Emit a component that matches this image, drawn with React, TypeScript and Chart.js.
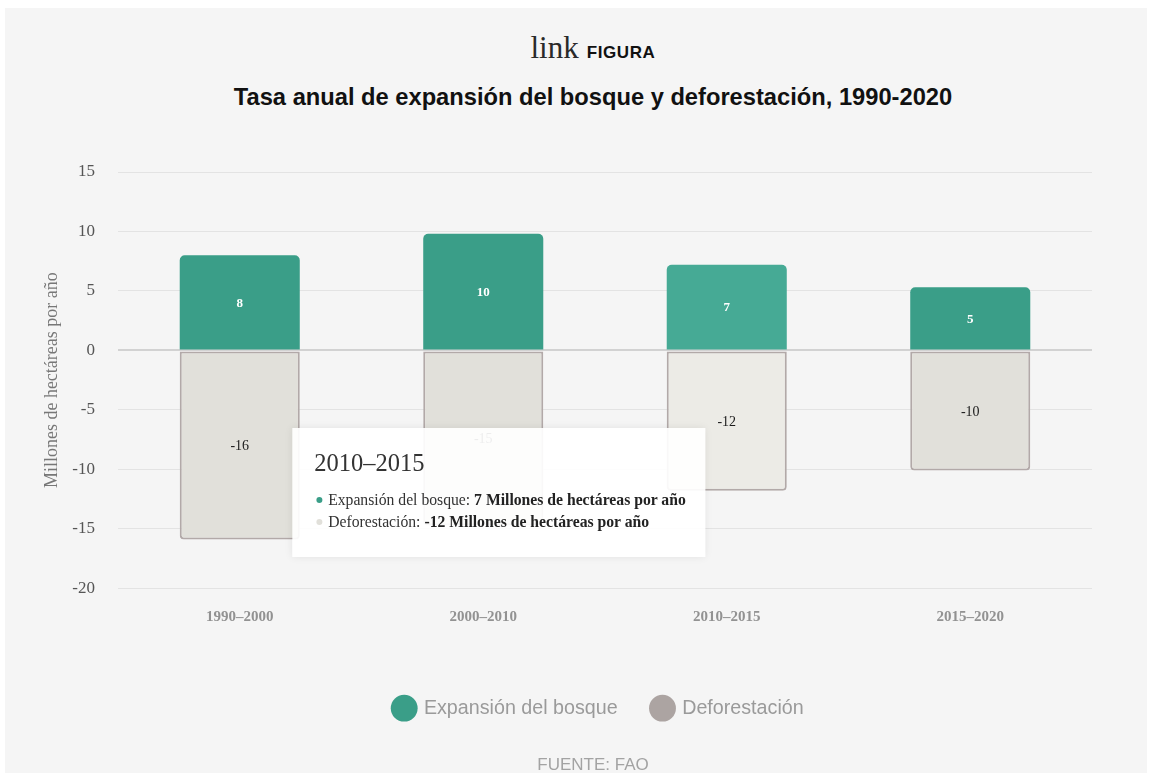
import React, { useEffect, useRef } from "react";
import { Chart, registerables } from "chart.js";

Chart.register(...registerables);

const categories = ["1990–2000", "2000–2010", "2010–2015", "2015–2020"];
const expansion = [8.0, 9.8, 7.2, 5.3];
const deforestation = [-15.9, -14.7, -11.8, -10.1];
const seriesNames = ["Expansión del bosque", "Deforestación"];
const unitLabel = "Millones de hectáreas por año";
const yMin = -20;
const yMax = 15;
const yStep = 5;
const activeIndex = 2;

const GREEN = "#3a9e88";
const GREEN_HOVER = "#46aa95";
const GREY_FILL = "#e1e0da";
const GREY_HOVER = "#ecebe6";
const GREY_BORDER = "#b2a9a8";
const GREY_LEGEND = "#aca4a2";
const SERIF = "'Liberation Serif', 'Times New Roman', serif";
const SANS = "'Liberation Sans', Arial, sans-serif";

const valueLabels = {
  id: "valueLabels",
  afterDatasetsDraw(chart: any) {
    const ctx = chart.ctx;
    chart.data.datasets.forEach((ds: any, di: number) => {
      const meta = chart.getDatasetMeta(di);
      meta.data.forEach((el: any, i: number) => {
        const v = ds.data[i];
        const c = el.getCenterPoint();
        ctx.save();
        ctx.textAlign = "center";
        ctx.textBaseline = "middle";
        if (di === 0) {
          ctx.fillStyle = "#ffffff";
          ctx.font = `bold 13px ${SERIF}`;
        } else {
          ctx.fillStyle = "#1a1a1a";
          ctx.font = `14px ${SERIF}`;
        }
        ctx.fillText(String(Math.round(v)), c.x, c.y + 1);
        ctx.restore();
      });
    });
  },
};

// nudges the legend row to sit slightly left of the plot-area centre, as in the source
const legendNudge = {
  id: "legendNudge",
  afterLayout(chart: any) {
    if (chart.legend) {
      chart.legend.left -= 6;
      chart.legend.right -= 6;
    }
  },
};

export default function App() {
  const canvasRef = useRef<HTMLCanvasElement | null>(null);
  const tipRef = useRef<HTMLDivElement | null>(null);

  useEffect(() => {
    if (!canvasRef.current) return;
    const external = (context: any) => {
      const { tooltip } = context;
      const el = tipRef.current;
      if (!el) return;
      if (!tooltip || tooltip.opacity === 0 || !tooltip.dataPoints || !tooltip.dataPoints.length) {
        el.style.opacity = "0";
        return;
      }
      const idx = tooltip.dataPoints[0].dataIndex;
      el.innerHTML = "";
      const title = document.createElement("div");
      title.textContent = categories[idx];
      title.style.cssText = `font: 24.5px/28px ${SERIF}; color:#333; margin-bottom:12px;`;
      el.appendChild(title);
      const rows = [
        { name: seriesNames[0], v: expansion[idx], color: GREEN },
        { name: seriesNames[1], v: deforestation[idx], color: GREY_FILL },
      ];
      rows.forEach((r) => {
        const line = document.createElement("div");
        line.style.cssText = `font: 15.7px/22px ${SERIF}; color:#333; white-space:nowrap; display:flex; align-items:center;`;
        const dot = document.createElement("span");
        dot.style.cssText = `display:inline-block; width:6px; height:6px; border-radius:50%; background:${r.color}; margin-right:6px; margin-left:2px;`;
        const txt = document.createElement("span");
        txt.textContent = r.name + ": ";
        txt.style.whiteSpace = "pre";
        const b = document.createElement("b");
        b.textContent = `${Math.round(r.v)} ${unitLabel}`;
        b.style.color = "#222";
        line.appendChild(dot);
        line.appendChild(txt);
        line.appendChild(b);
        el.appendChild(line);
      });
      el.style.opacity = "1";
      el.style.left = `${tooltip.caretX - 21}px`;
      el.style.top = `${tooltip.caretY + 50}px`;
    };

    const chart = new Chart(canvasRef.current, {
      type: "bar",
      data: {
        labels: categories,
        datasets: [
          {
            label: seriesNames[0],
            data: expansion,
            backgroundColor: GREEN,
            hoverBackgroundColor: GREEN_HOVER,
            borderWidth: 0,
            borderRadius: { topLeft: 5, topRight: 5, bottomLeft: 0, bottomRight: 0 },
            borderSkipped: false,
            barPercentage: 0.493,
            categoryPercentage: 1,
          },
          {
            label: seriesNames[1],
            data: deforestation,
            backgroundColor: GREY_FILL,
            hoverBackgroundColor: GREY_HOVER,
            borderColor: GREY_BORDER,
            hoverBorderColor: GREY_BORDER,
            borderWidth: 2,
            hoverBorderWidth: 2,
            borderRadius: { topLeft: 0, topRight: 0, bottomLeft: 4, bottomRight: 4 },
            borderSkipped: false,
            barPercentage: 0.493,
            categoryPercentage: 1,
          },
        ],
      },
      options: {
        animation: false,
        responsive: false,
        events: [],
        layout: { padding: { left: 0, right: 55, top: 164, bottom: 45 } },
        interaction: { mode: "index", intersect: false },
        scales: {
          x: {
            stacked: true,
            grid: { display: false, drawTicks: false },
            border: { display: false },
            ticks: {
              color: "#929292",
              font: { family: SERIF, size: 15, weight: "bold" },
              padding: 20,
            },
            afterFit: (s: any) => {
              s.height = 75;
            },
          },
          y: {
            stacked: true,
            min: yMin,
            max: yMax,
            grid: {
              drawTicks: false,
              color: (c: any) => (c.tick && c.tick.value === 0 ? "#d2d2d2" : "#e3e3e3"),
              lineWidth: (c: any) => (c.tick && c.tick.value === 0 ? 2 : 1),
            },
            border: { display: false },
            ticks: {
              stepSize: yStep,
              color: "#555",
              font: { family: SERIF, size: 17 },
              padding: 23,
            },
            title: {
              display: true,
              text: unitLabel,
              color: "#777",
              font: { family: SERIF, size: 18 },
              padding: { top: 36, bottom: 0 },
            },
            afterFit: (s: any) => {
              s.width = 113;
            },
          },
        },
        plugins: {
          legend: {
            position: "bottom",
            fullSize: false,
            labels: {
              usePointStyle: true,
              boxHeight: 19,
              padding: 35,
              color: "#9a9a9a",
              font: { family: SANS, size: 19.7 },
              generateLabels: () => [
                {
                  text: seriesNames[0],
                  fillStyle: GREEN,
                  strokeStyle: GREEN,
                  lineWidth: 0,
                  pointStyle: "circle",
                  hidden: false,
                  datasetIndex: 0,
                  fontColor: "#9a9a9a",
                },
                {
                  text: seriesNames[1],
                  fillStyle: GREY_LEGEND,
                  strokeStyle: GREY_LEGEND,
                  lineWidth: 0,
                  pointStyle: "circle",
                  hidden: false,
                  datasetIndex: 1,
                  fontColor: "#9a9a9a",
                },
              ],
            },
          },
          tooltip: {
            enabled: false,
            mode: "index",
            intersect: false,
            external,
          },
        },
      },
      plugins: [valueLabels, legendNudge],
    } as any);

    const active = [
      { datasetIndex: 0, index: activeIndex },
      { datasetIndex: 1, index: activeIndex },
    ];
    const el0: any = chart.getDatasetMeta(0).data[activeIndex];
    chart.setActiveElements(active);
    chart.tooltip!.setActiveElements(active, { x: el0.x, y: el0.y });
    chart.update();

    return () => chart.destroy();
  }, []);

  return (
    <div
      style={{
        position: "absolute",
        left: 5,
        top: 8,
        width: 1142,
        height: 765,
        background: "#f5f5f5",
        overflow: "hidden",
      }}
    >
      <div
        style={{
          position: "absolute",
          left: 0,
          top: 22,
          width: 1176,
          textAlign: "center",
          whiteSpace: "nowrap",
        }}
      >
        <span style={{ fontFamily: SERIF, fontSize: 31, color: "#2a2a2a" }}>link</span>
        <span
          style={{
            fontFamily: SANS,
            fontSize: 17,
            fontWeight: 900,
            color: "#111",
            marginLeft: 8,
            letterSpacing: 0.6,
          }}
        >
          FIGURA
        </span>
      </div>
      <div
        style={{
          position: "absolute",
          left: 0,
          top: 76,
          width: 1176,
          textAlign: "center",
          fontFamily: SANS,
          fontSize: 23.7,
          fontWeight: "bold",
          color: "#111",
          whiteSpace: "nowrap",
        }}
      >
        Tasa anual de expansión del bosque y deforestación, 1990-2020
      </div>
      <canvas ref={canvasRef} width={1142} height={765} style={{ position: "absolute", left: 0, top: 0 }} />
      <div
        ref={tipRef}
        style={{
          position: "absolute",
          opacity: 0,
          transform: "translateX(-100%)",
          background: "rgba(255,255,255,0.92)",
          boxShadow: "0 0 8px rgba(0,0,0,0.08)",
          padding: "21px 20px 24px 22px",
          pointerEvents: "none",
          boxSizing: "border-box",
        }}
      />
      <div
        style={{
          position: "absolute",
          left: 0,
          top: 747,
          width: 1176,
          textAlign: "center",
          fontFamily: SANS,
          fontSize: 17,
          color: "#a3a3a3",
        }}
      >
        FUENTE: FAO
      </div>
    </div>
  );
}
